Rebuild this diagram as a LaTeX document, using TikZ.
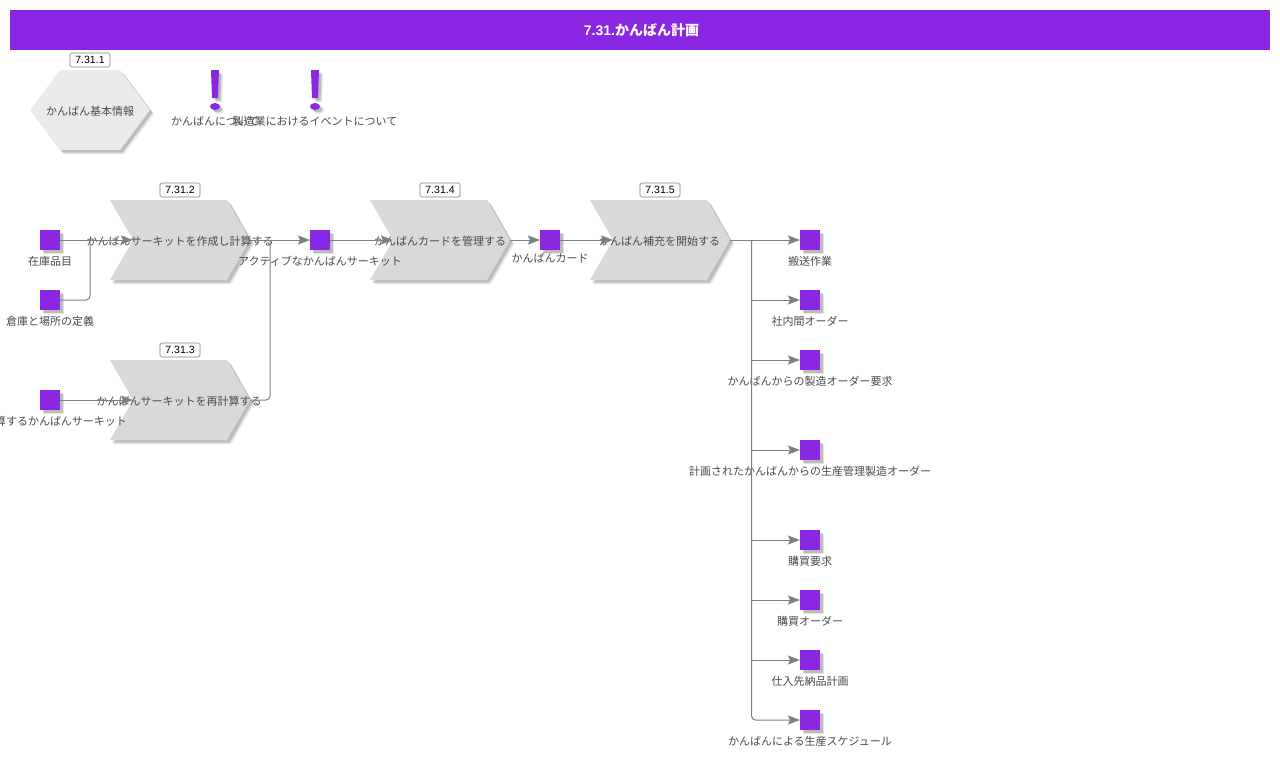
\documentclass[tikz,border=0pt]{standalone}
\usepackage{fontspec}
\setmainfont{Noto Sans CJK JP}
\newfontfamily\numfont{Liberation Sans}
\usetikzlibrary{arrows.meta,shadows}
\definecolor{kbpurple}{HTML}{8A27E2}
\definecolor{kbgray}{HTML}{D8D9DB}
\definecolor{kblight}{HTML}{EBEBEB}
\definecolor{kbline}{HTML}{7F7F7F}
\definecolor{kbtext}{HTML}{4A4A4A}
\tikzset{
  kbshadow/.style={
    drop shadow={shadow xshift=4pt,shadow yshift=-4pt,fill=black,opacity=.1},
    drop shadow={shadow xshift=2.5pt,shadow yshift=-2.5pt,fill=black,opacity=.18}},
  chevron/.style={fill=kbgray,kbshadow},
  hexa/.style={fill=kblight,kbshadow},
  item/.style={minimum size=20pt,inner sep=0pt,outer sep=0pt,fill=kbpurple,kbshadow},
  itemtext/.style={text=kbtext,font=\fontsize{11}{13}\selectfont,inner sep=0pt},
  numtag/.style={draw=black!50,fill=white,rounded corners=1.5pt,minimum width=40pt,minimum height=14pt,
    inner sep=0pt,line width=.7pt,font=\numfont\fontsize{10.5}{12}\selectfont},
  flow/.style={draw=kbline,line width=1pt,rounded corners=4pt},
  flowarrow/.style={flow,-{Stealth[length=12pt,width=9pt,inset=2pt,fill=kbline]}},
  branch/.style={flowarrow,sharp corners},
}
\begin{document}
\begin{tikzpicture}[x=1pt,y=-1pt]
  \useasboundingbox (0,0) rectangle (1280,758);
  \node[fill=kbpurple,minimum width=1260pt,minimum height=40pt,inner sep=0pt,text=white,
    font=\fontsize{14}{16}\selectfont\bfseries] (title) at (640,30) {\hspace*{3pt}{\numfont 7.31.}かんばん計画};
  % functions
  \fill[hexa] (60,70) -- (120,70) -- (150,110) -- (120,150) -- (60,150) -- (30,110) -- cycle;
  \fill[chevron] (110,200) -- (227,200) -- (250,240) -- (227,280) -- (110,280) -- (133,240) -- cycle;
  \fill[chevron] (110,360) -- (227,360) -- (250,400) -- (227,440) -- (110,440) -- (133,400) -- cycle;
  \fill[chevron] (370,200) -- (487,200) -- (510,240) -- (487,280) -- (370,280) -- (393,240) -- cycle;
  \fill[chevron] (590,200) -- (707,200) -- (730,240) -- (707,280) -- (590,280) -- (613,240) -- cycle;
  \path
    (90,111) node[itemtext] (basic){かんばん基本情報}
    (180,241) node[itemtext] (create){かんばんサーキットを作成し計算する}
    (179,401) node[itemtext] (recalc){かんばんサーキットを再計算する}
    (440,241) node[itemtext] (manage){かんばんカードを管理する}
    (659.5,241) node[itemtext] (start){かんばん補充を開始する};
  \path
    (90,60) node[numtag] (tag1){7.31.1}
    (180,190) node[numtag] (tag2){7.31.2}
    (180,350) node[numtag] (tag3){7.31.3}
    (440,190) node[numtag] (tag4){7.31.4}
    (660,190) node[numtag] (tag5){7.31.5};
  % notes
  \fill[kbpurple,kbshadow] (211,70) -- (219,70) -- (218,98) -- (212,98) -- cycle;
  \fill[kbpurple,kbshadow] (215,106.5) ellipse (5 and 3.5);
  \fill[kbpurple,kbshadow] (311,70) -- (319,70) -- (318,98) -- (312,98) -- cycle;
  \fill[kbpurple,kbshadow] (315,106.5) ellipse (5 and 3.5);
  \path
    (215,121) node[itemtext] (note1){かんばんについて}
    (315,121) node[itemtext] (note2){製造業におけるイベントについて};
  % data items
  \path
    (50,240) node[item] (stock){}
    (50,300) node[item] (place){}
    (50,400) node[item] (tocalc){}
    (320,240) node[item] (active){}
    (550,240) node[item] (card){}
    (810,240) node[item] (move){}
    (810,300) node[item] (inner){}
    (810,360) node[item] (makereq){}
    (810,450) node[item] (plan){}
    (810,540) node[item] (buyreq){}
    (810,600) node[item] (buy){}
    (810,660) node[item] (supply){}
    (810,720) node[item] (sched){};
  \path
    (50,261) node[itemtext] (stocktext){在庫品目}
    (50,321) node[itemtext] (placetext){倉庫と場所の定義}
    (50,421) node[itemtext] (tocalctext){再計算するかんばんサーキット}
    (320,261) node[itemtext] (activetext){アクティブなかんばんサーキット}
    (550,258) node[itemtext] (cardtext){かんばんカード}
    (810,261) node[itemtext] (movetext){搬送作業}
    (810,321) node[itemtext] (innertext){社内間オーダー}
    (810,381) node[itemtext] (makereqtext){かんばんからの製造オーダー要求}
    (810,471) node[itemtext] (plantext){計画されたかんばんからの生産管理製造オーダー}
    (810,561) node[itemtext] (buyreqtext){購買要求}
    (810,621) node[itemtext] (buytext){購買オーダー}
    (810,681) node[itemtext] (supplytext){仕入先納品計画}
    (810,741) node[itemtext] (schedtext){かんばんによる生産スケジュール};
  % connectors
  \coordinate (createin) at (133,240);
  \coordinate (createout) at (250,240);
  \coordinate (recalcin) at (133,400);
  \coordinate (recalcout) at (250,400);
  \coordinate (managein) at (393,240);
  \coordinate (manageout) at (510,240);
  \coordinate (startin) at (613,240);
  \coordinate (startout) at (730,240);
  \coordinate (join1) at (90,240);
  \coordinate (join2) at (270,240);
  \coordinate (join3) at (751.5,240);
  \draw[flowarrow] (stock.east) -- (createin);
  \draw[flow] (place.east) -| (join1);
  \draw[flowarrow] (tocalc.east) -- (recalcin);
  \draw[flowarrow] (createout) -- (active.west);
  \draw[flow] (recalcout) -| (join2);
  \draw[flowarrow] (active.east) -- (managein);
  \draw[flowarrow] (manageout) -- (card.west);
  \draw[flowarrow] (card.east) -- (startin);
  \draw[flowarrow] (startout) -- (move.west);
  \draw[branch] (join3) |- (inner.west);
  \draw[branch] (join3) |- (makereq.west);
  \draw[branch] (join3) |- (plan.west);
  \draw[branch] (join3) |- (buyreq.west);
  \draw[branch] (join3) |- (buy.west);
  \draw[branch] (join3) |- (supply.west);
  \draw[flowarrow] (join3) |- (sched.west);
\end{tikzpicture}
\end{document}
